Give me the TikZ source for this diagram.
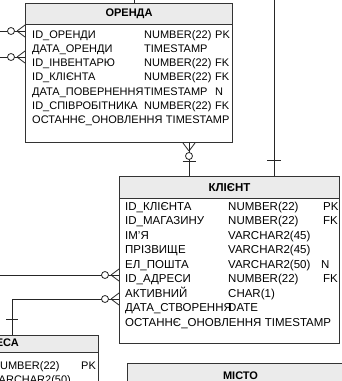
\documentclass[tikz,border=0pt]{standalone}
\usepackage{fontspec}
\setmainfont{Liberation Sans}
\usetikzlibrary{calc,positioning}

\tikzset{
  tbl/.style={draw=black!80, line width=1pt, fill=white, anchor=north west, inner sep=0pt},
  tblhead/.style={draw=black!80, line width=1pt, fill=black!8, anchor=north west, inner sep=0pt, font=\bfseries\fontsize{11}{13}\selectfont},
  fld/.style={anchor=base west, inner sep=0pt, font=\fontsize{11}{13}\selectfont},
  kfld/.style={fld, font=\fontsize{11.5}{13}\selectfont},
  rel/.style={draw=black!85, line width=0.8pt},
  zero/.style={circle, draw=black!85, line width=0.8pt, fill=white, minimum size=7pt, inner sep=0pt},
}

\begin{document}
\begin{tikzpicture}[x=1pt,y=-1pt]
\useasboundingbox (0,0) rectangle (342,381);
\clip (0,0) rectangle (342,381);
\fill[white] (0,0) rectangle (342,381);

% tables
\node[tbl, minimum width=207pt, minimum height=139pt] (orenda) at (25,3) {};
\node[tblhead, minimum width=207pt, minimum height=21pt] (orendaH) at (orenda.north west) {ОРЕНДА};
\node[tbl, minimum width=220pt, minimum height=167pt] (klient) at (119,176) {};
\node[tblhead, minimum width=220pt, minimum height=22pt, font=\bfseries\fontsize{11.5}{13}\selectfont] (klientH) at (klient.north west) {КЛІЄНТ};
\node[tbl, minimum width=206pt, minimum height=80pt] (adresa) at (-108,335) {};
\node[tblhead, minimum width=206pt, minimum height=17pt] (adresaH) at (adresa.north west) {АДРЕСА};
\node[tbl, minimum width=226pt, minimum height=60pt] (misto) at (127,363) {};
\node[tblhead, minimum width=226pt, minimum height=24pt] (mistoH) at (misto.north west) {МІСТО};

% ОРЕНДА fields
\node[fld] (oName1) at (32,38) {ID\_ОРЕНДИ};
\node[fld] (oType1) at (144,38) {NUMBER(22)};
\node[fld] (oKey1) at (215,38) {PK};
\node[fld] (oName2) at (32,52.3) {ДАТА\_ОРЕНДИ};
\node[fld] (oType2) at (144,52.3) {TIMESTAMP};
\node[fld] (oName3) at (32,66.6) {ID\_ІНВЕНТАРЮ};
\node[fld] (oType3) at (144,66.6) {NUMBER(22)};
\node[fld] (oKey3) at (215,66.6) {FK};
\node[fld] (oName4) at (32,80.9) {ID\_КЛІЄНТА};
\node[fld] (oType4) at (144,80.9) {NUMBER(22)};
\node[fld] (oKey4) at (215,80.9) {FK};
\node[fld] (oName5) at (32,95.2) {ДАТА\_ПОВЕРНЕННЯ};
\node[fld] (oType5) at (144,95.2) {TIMESTAMP};
\node[fld] (oKey5) at (215,95.2) {N};
\node[fld] (oName6) at (32,109.5) {ID\_СПІВРОБІТНИКА};
\node[fld] (oType6) at (144,109.5) {NUMBER(22)};
\node[fld] (oKey6) at (215,109.5) {FK};
\node[fld] (oName7) at (32,123.8) {ОСТАННЄ\_ОНОВЛЕННЯ};
\node[fld] (oType7) at ([xshift=3pt]oName7.base east) {TIMESTAMP};

% КЛІЄНТ fields
\node[kfld] (kName1) at (125,210) {ID\_КЛІЄНТА};
\node[kfld] (kType1) at (228,210) {NUMBER(22)};
\node[kfld] (kKey1) at (323,210) {PK};
\node[kfld] (kName2) at (125,224.5) {ID\_МАГАЗИНУ};
\node[kfld] (kType2) at (228,224.5) {NUMBER(22)};
\node[kfld] (kKey2) at (323,224.5) {FK};
\node[kfld] (kName3) at (125,239) {ІМ'Я};
\node[kfld] (kType3) at (228,239) {VARCHAR2(45)};
\node[kfld] (kName4) at (125,253.5) {ПРІЗВИЩЕ};
\node[kfld] (kType4) at (228,253.5) {VARCHAR2(45)};
\node[kfld] (kName5) at (125,268) {ЕЛ\_ПОШТА};
\node[kfld] (kType5) at (228,268) {VARCHAR2(50)};
\node[kfld] (kKey5) at (321,268) {N};
\node[kfld] (kName6) at (125,282.5) {ID\_АДРЕСИ};
\node[kfld] (kType6) at (228,282.5) {NUMBER(22)};
\node[kfld] (kKey6) at (323,282.5) {FK};
\node[kfld] (kName7) at (125,297) {АКТИВНИЙ};
\node[kfld] (kType7) at (228,297) {CHAR(1)};
\node[kfld] (kName8) at (125,311.5) {ДАТА\_СТВОРЕННЯ};
\node[kfld] (kType8) at (228,311.5) {DATE};
\node[kfld] (kName9) at (125,326) {ОСТАННЄ\_ОНОВЛЕННЯ};
\node[kfld] (kType9) at ([xshift=3pt]kName9.base east) {TIMESTAMP};

% АДРЕСА fields
\node[fld] (aType1) at (-8,369) {NUMBER(22)};
\node[fld] (aKey1) at (81,369) {PK};
\node[fld] (aType2) at (-8,383) {VARCHAR2(50)};

% relations
\coordinate (c0) at (134,0);
\draw[rel] (c0) -- (c0 |- orenda.north);

\coordinate (o1) at (0,31);
\coordinate (f1) at (orenda.west |- o1);
\draw[rel] (o1) -- (f1);
\draw[rel] ($(f1)+(-8,0)$) -- ($(f1)+(0,-6)$) ($(f1)+(-8,0)$) -- ($(f1)+(0,6)$);
\node[zero] (z1) at ($(f1)+(-14,0)$) {};

\coordinate (o2) at (0,57);
\coordinate (f2) at (orenda.west |- o2);
\draw[rel] (o2) -- (f2);
\draw[rel] ($(f2)+(-8,0)$) -- ($(f2)+(0,-6)$) ($(f2)+(-8,0)$) -- ($(f2)+(0,6)$);
\node[zero] (z2) at ($(f2)+(-14,0)$) {};

\coordinate (c1) at (189,0);
\coordinate (f3) at (c1 |- orenda.south);
\draw[rel] (f3) -- (c1 |- klient.north);
\draw[rel] ($(f3)+(0,8)$) -- ($(f3)+(-6,0)$) ($(f3)+(0,8)$) -- ($(f3)+(6,0)$);
\node[zero] (z3) at ($(f3)+(0,13)$) {};
\draw[rel] ($(f3)+(-6.5,18)$) -- ($(f3)+(6.5,18)$);

\coordinate (c2) at (274,0);
\draw[rel] (c2) -- (c2 |- klient.north);
\draw[rel] ($(c2 |- klient.north)+(-7,-16)$) -- ($(c2 |- klient.north)+(7,-16)$);

\coordinate (o4) at (0,275);
\coordinate (f4) at (klient.west |- o4);
\draw[rel] (o4) -- (f4);
\draw[rel] ($(f4)+(-8,0)$) -- ($(f4)+(0,-6)$) ($(f4)+(-8,0)$) -- ($(f4)+(0,6)$);
\node[zero] (z4) at ($(f4)+(-14,0)$) {};

\coordinate (a1) at (12,299);
\coordinate (f5) at (klient.west |- a1);
\draw[rel] (a1 |- adresa.north) -- (a1) -- (f5);
\draw[rel] ($(a1 |- adresa.north)+(-6,-16)$) -- ($(a1 |- adresa.north)+(6,-16)$);
\draw[rel] ($(f5)+(-8,0)$) -- ($(f5)+(0,-6)$) ($(f5)+(-8,0)$) -- ($(f5)+(0,6)$);
\node[zero] (z5) at ($(f5)+(-14,0)$) {};
\end{tikzpicture}
\end{document}
